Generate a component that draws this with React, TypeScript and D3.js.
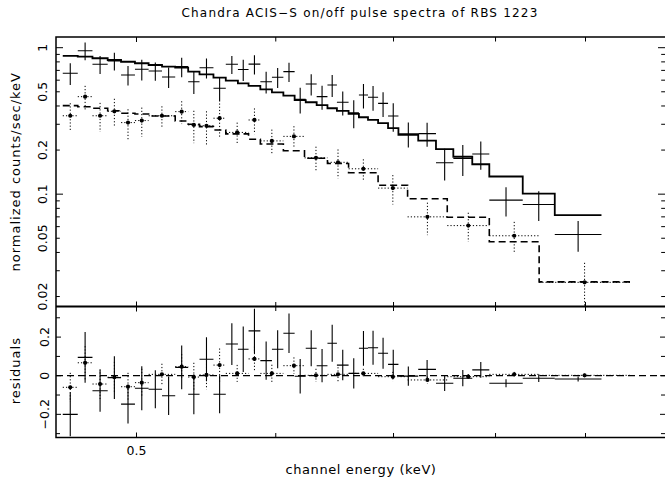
import React, { useEffect, useRef } from "react";
import * as d3 from "d3";

// on-pulse spectrum (keV bin edges, normalized counts/sec/keV)
const onEdges = [0.454, 0.463, 0.472, 0.4815, 0.49, 0.499, 0.508, 0.517, 0.526, 0.535, 0.543, 0.553, 0.562, 0.571, 0.579, 0.588, 0.597, 0.606, 0.615, 0.624, 0.633, 0.642, 0.65, 0.66, 0.669, 0.677, 0.686, 0.695, 0.7045, 0.723, 0.74, 0.757, 0.776, 0.7935, 0.829, 0.8645, 0.919];
const onRate = [0.669, 0.954, 0.77, 0.811, 0.651, 0.712, 0.693, 0.631, 0.742, 0.586, 0.73, 0.528, 0.77, 0.71, 0.772, 0.586, 0.628, 0.686, 0.444, 0.565, 0.463, 0.556, 0.424, 0.36, 0.475, 0.459, 0.417, 0.342, 0.258, 0.259, 0.164, 0.175, 0.188, 0.091, 0.085, 0.053];
const onErr = [0.113, 0.132, 0.108, 0.111, 0.1, 0.114, 0.098, 0.1, 0.113, 0.103, 0.114, 0.098, 0.108, 0.118, 0.115, 0.099, 0.098, 0.102, 0.089, 0.093, 0.086, 0.096, 0.079, 0.078, 0.09, 0.088, 0.08, 0.075, 0.05, 0.048, 0.04, 0.042, 0.041, 0.0205, 0.0195, 0.0125];
const onModel = [0.878, 0.868, 0.847, 0.824, 0.802, 0.783, 0.762, 0.742, 0.73, 0.686, 0.658, 0.624, 0.595, 0.57, 0.548, 0.52, 0.496, 0.47, 0.439, 0.424, 0.406, 0.386, 0.37, 0.353, 0.335, 0.321, 0.305, 0.282, 0.254, 0.232, 0.203, 0.18, 0.16, 0.132, 0.101, 0.072];
const onResid = [-0.2, 0.095, -0.078, -0.01, -0.147, -0.065, -0.07, -0.104, 0.043, -0.096, 0.085, -0.096, 0.164, 0.137, 0.232, 0.078, 0.137, 0.22, -0.003, 0.142, 0.052, 0.168, 0.055, 0.012, 0.142, 0.145, 0.116, 0.059, -0.002, 0.033, -0.039, -0.013, 0.03, -0.039, -0.013, -0.017];

// off-pulse spectrum
const offEdges = [0.454, 0.463, 0.472, 0.4815, 0.49, 0.499, 0.508, 0.526, 0.535, 0.543, 0.553, 0.562, 0.579, 0.588, 0.606, 0.623, 0.642, 0.66, 0.686, 0.713, 0.751, 0.7935, 0.847, 0.954];
const offRate = [0.343, 0.463, 0.343, 0.368, 0.308, 0.318, 0.343, 0.366, 0.297, 0.293, 0.33, 0.264, 0.321, 0.231, 0.248, 0.177, 0.165, 0.149, 0.11, 0.07, 0.061, 0.052, 0.025];
const offErr = [0.075, 0.086, 0.077, 0.08, 0.072, 0.072, 0.055, 0.065, 0.074, 0.075, 0.086, 0.044, 0.064, 0.045, 0.043, 0.034, 0.037, 0.024, 0.025, 0.0175, 0.0137, 0.0127, 0.009];
const offModel = [0.402, 0.395, 0.386, 0.371, 0.357, 0.353, 0.342, 0.316, 0.3, 0.289, 0.274, 0.258, 0.237, 0.22, 0.198, 0.176, 0.162, 0.14, 0.115, 0.093, 0.0695, 0.0473, 0.0252];
const offResid = [-0.06, 0.067, -0.043, -0.008, -0.057, -0.036, 0.007, 0.047, -0.007, 0.004, 0.055, 0.012, 0.087, 0.012, 0.052, 0.002, 0.007, 0.012, -0.005, -0.022, -0.005, 0.007, 0.002];

const topTickLabels = ["0.02", "0.05", "0.1", "0.2", "0.5", "1"];
const residTickLabels = ["-0.2", "0", "0.2"];
const xTickLabels = ["0.5"];

const FONT = "'DejaVu Sans', sans-serif";

const App = () => {
  const ref = useRef<SVGSVGElement>(null);

  useEffect(() => {
    const svg = d3.select(ref.current);
    svg.selectAll("*").remove();

    // right edge sits just past the picture, as in the original plot
    const left = 56, right = 666;
    const top = 37, mid = 306.5, bottom = 437.5;

    const x = d3.scaleLog().domain([0.45, 1.0]).range([left, right]);
    const yTop = d3.scaleLog().domain([0.0171, 1.183]).range([mid, top]);
    const yRes = d3.scaleLinear().domain([-0.32, 0.3585]).range([bottom, mid]);

    const defs = svg.append("defs");
    defs.append("clipPath").attr("id", "clipTop")
      .append("rect").attr("x", left).attr("y", top).attr("width", right - left).attr("height", mid - top);
    defs.append("clipPath").attr("id", "clipRes")
      .append("rect").attr("x", left).attr("y", mid).attr("width", right - left).attr("height", bottom - mid);

    const gTop = svg.append("g").attr("clip-path", "url(#clipTop)");
    const gRes = svg.append("g").attr("clip-path", "url(#clipRes)");

    const step = (edges: number[], vals: number[], y: (v: number) => number) => {
      const pts: [number, number][] = edges.map((e, i) => [x(e), y(vals[Math.min(i, vals.length - 1)])]);
      return d3.line().curve(d3.curveStepAfter)(pts) as string;
    };

    const crosses = (
      g: d3.Selection<SVGGElement, unknown, null, undefined>,
      edges: number[], vals: number[], errs: number[],
      y: (v: number) => number, dotted: boolean, lowClamp: number
    ) => {
      const gg = g.append("g")
        .attr("stroke", "#000")
        .attr("stroke-width", dotted ? 1 : 1.1)
        .attr("stroke-dasharray", dotted ? "1.2,2" : null);
      vals.forEach((v, i) => {
        const e0 = edges[i], e1 = edges[i + 1];
        const xc = x(Math.sqrt(e0 * e1));
        gg.append("line").attr("x1", x(e0)).attr("x2", x(e1)).attr("y1", y(v)).attr("y2", y(v));
        gg.append("line").attr("x1", xc).attr("x2", xc)
          .attr("y1", y(v + errs[i])).attr("y2", y(Math.max(v - errs[i], lowClamp)));
        if (dotted) {
          g.append("circle").attr("cx", xc).attr("cy", y(v)).attr("r", 2.1).attr("fill", "#000");
        }
      });
    };

    // top panel: models
    gTop.append("path").attr("d", step(offEdges, offModel, yTop))
      .attr("fill", "none").attr("stroke", "#000").attr("stroke-width", 1.6).attr("stroke-dasharray", "7,4");
    gTop.append("path").attr("d", step(onEdges, onModel, yTop))
      .attr("fill", "none").attr("stroke", "#000").attr("stroke-width", 1.8);

    crosses(gTop, onEdges, onRate, onErr, yTop, false, 0.005);
    crosses(gTop, offEdges, offRate, offErr, yTop, true, 0.005);

    // residual panel
    gRes.append("line").attr("x1", left).attr("x2", right).attr("y1", yRes(0)).attr("y2", yRes(0))
      .attr("stroke", "#000").attr("stroke-width", 1.2).attr("stroke-dasharray", "7,4");
    crosses(gRes, onEdges, onResid, onErr, yRes, false, -1);
    crosses(gRes, offEdges, offResid, offErr, yRes, true, -1);

    // ticks
    const axes = svg.append("g").attr("stroke", "#000").attr("stroke-width", 1);
    const xTicks = [0.5, 0.6, 0.7, 0.8, 0.9];
    xTicks.forEach((t) => {
      const len = t === 0.5 ? 5 : 4.5;
      const xx = x(t);
      [[top, len], [mid, -len], [mid, len], [bottom, -len]].forEach(([y0, d]) => {
        axes.append("line").attr("x1", xx).attr("x2", xx).attr("y1", y0).attr("y2", y0 + d);
      });
    });

    const topTicks: number[] = [];
    [0.01, 0.1, 1].forEach((d) => {
      for (let k = 1; k <= 9; k++) {
        const v = d * k;
        if (v >= 0.0171 && v <= 1.183) topTicks.push(v);
      }
    });
    const tickRight = 665;
    topTicks.forEach((t) => {
      const decade = Math.abs(Math.log10(t) - Math.round(Math.log10(t))) < 1e-6;
      const len = decade ? 7 : 3.8;
      const yy = yTop(t);
      axes.append("line").attr("x1", left).attr("x2", left + len).attr("y1", yy).attr("y2", yy);
      axes.append("line").attr("x1", tickRight).attr("x2", tickRight - len).attr("y1", yy).attr("y2", yy);
    });

    d3.range(-3, 4).forEach((k) => {
      const t = k / 10;
      const len = k % 2 === 0 ? 5 : 4;
      const yy = yRes(t);
      axes.append("line").attr("x1", left).attr("x2", left + len).attr("y1", yy).attr("y2", yy);
      axes.append("line").attr("x1", tickRight).attr("x2", tickRight - len).attr("y1", yy).attr("y2", yy);
    });

    // frame
    const frame = svg.append("g").attr("fill", "none").attr("stroke", "#000");
    frame.append("rect").attr("x", left).attr("y", top).attr("width", right - left).attr("height", bottom - top)
      .attr("stroke-width", 1.5);
    frame.append("line").attr("x1", left).attr("x2", right).attr("y1", mid).attr("y2", mid).attr("stroke-width", 2);

    // labels
    const txt = svg.append("g").attr("font-family", FONT).attr("fill", "#000").attr("font-size", 12.5);

    topTickLabels.forEach((s) => {
      txt.append("text").attr("transform", `translate(42,${yTop(+s)}) rotate(-90)`)
        .attr("text-anchor", "middle").attr("dominant-baseline", "central").text(s);
    });
    residTickLabels.forEach((s) => {
      txt.append("text").attr("transform", `translate(44.5,${yRes(+s)}) rotate(-90)`)
        .attr("text-anchor", "middle").attr("dominant-baseline", "central").text(s.replace("-", "\u2212"));
    });
    xTickLabels.forEach((s) => {
      txt.append("text").attr("x", x(+s)).attr("y", 455).attr("text-anchor", "middle").text(s);
    });

    const titles = txt.append("g").attr("font-size", 13).attr("letter-spacing", 1);
    titles.append("text").attr("transform", `translate(15,${(top + mid) / 2}) rotate(-90)`)
      .attr("text-anchor", "middle").attr("dominant-baseline", "central").text("normalized counts/sec/keV");
    titles.append("text").attr("transform", `translate(15,${yRes(0) - 5}) rotate(-90)`)
      .attr("text-anchor", "middle").attr("dominant-baseline", "central").text("residuals");
    titles.append("text").attr("x", 361).attr("y", 474).attr("text-anchor", "middle")
      .attr("letter-spacing", 0.6).text("channel energy (keV)");
    titles.append("text").attr("x", 360).attr("y", 17).attr("text-anchor", "middle").attr("font-size", 12)
      .attr("letter-spacing", 1.2)
      .text("Chandra ACIS\u2212S on/off pulse spectra of RBS 1223");
  }, []);

  return (
    <svg
      ref={ref}
      width={665}
      height={483}
      style={{ position: "absolute", left: 0, top: 0, background: "#fff" }}
    />
  );
};

export default App;
